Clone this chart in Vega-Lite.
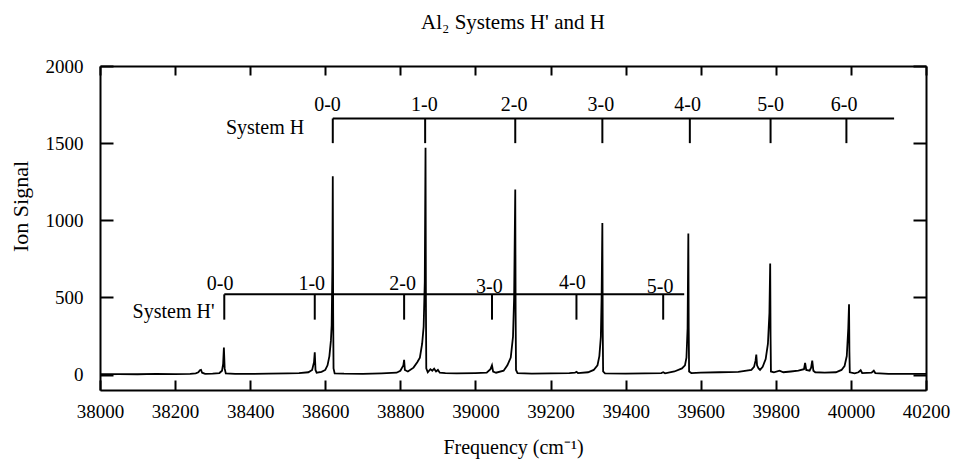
{
  "$schema": "https://vega.github.io/schema/vega-lite/v6.json",
  "width": 826,
  "height": 324,
  "autosize": {"type": "none"},
  "padding": {"left": 100, "top": 66, "right": 32, "bottom": 69},
  "background": "white",
  "title": {"text": "Al₂  Systems H' and H", "font": "Liberation Serif", "fontSize": 21, "fontWeight": "normal", "color": "black", "offset": 24, "anchor": "middle"},
  "config": {
    "font": "Liberation Serif",
    "view": {"stroke": null},
    "axis": {"grid": false, "domainColor": "black", "tickColor": "black", "labelColor": "black", "titleColor": "black", "labelFont": "Liberation Serif", "titleFont": "Liberation Serif", "labelFontSize": 19, "titleFontSize": 20, "titleFontWeight": "normal", "domainWidth": 2, "tickWidth": 2, "labelFlush": false, "labelOverlap": false}
  },
  "datasets": {
    "spectrum": [
      {"f": 38000, "s": 2}, {"f": 38050, "s": 3}, {"f": 38100, "s": 2}, {"f": 38150, "s": 4}, {"f": 38200, "s": 3},
      {"f": 38240, "s": 5}, {"f": 38255, "s": 8}, {"f": 38262, "s": 15}, {"f": 38266, "s": 28}, {"f": 38269, "s": 30},
      {"f": 38272, "s": 12}, {"f": 38280, "s": 5}, {"f": 38300, "s": 6}, {"f": 38318, "s": 10}, {"f": 38325, "s": 25},
      {"f": 38328, "s": 70}, {"f": 38330, "s": 175}, {"f": 38332, "s": 40}, {"f": 38335, "s": 8}, {"f": 38360, "s": 5},
      {"f": 38400, "s": 4}, {"f": 38450, "s": 6}, {"f": 38500, "s": 8}, {"f": 38530, "s": 10}, {"f": 38555, "s": 15},
      {"f": 38565, "s": 30}, {"f": 38570, "s": 80}, {"f": 38572, "s": 145}, {"f": 38574, "s": 30}, {"f": 38577, "s": 12},
      {"f": 38590, "s": 18}, {"f": 38600, "s": 30}, {"f": 38606, "s": 60}, {"f": 38611, "s": 120}, {"f": 38615, "s": 220},
      {"f": 38617, "s": 320}, {"f": 38619, "s": 700}, {"f": 38620, "s": 1285}, {"f": 38621, "s": 400}, {"f": 38622, "s": 40},
      {"f": 38625, "s": 8}, {"f": 38650, "s": 6}, {"f": 38700, "s": 5}, {"f": 38750, "s": 8}, {"f": 38790, "s": 12},
      {"f": 38800, "s": 25}, {"f": 38808, "s": 60}, {"f": 38810, "s": 95}, {"f": 38812, "s": 30}, {"f": 38820, "s": 20},
      {"f": 38835, "s": 45}, {"f": 38845, "s": 80}, {"f": 38852, "s": 110}, {"f": 38858, "s": 200}, {"f": 38862, "s": 310},
      {"f": 38865, "s": 600}, {"f": 38867, "s": 1470}, {"f": 38868, "s": 500}, {"f": 38869, "s": 40}, {"f": 38873, "s": 15},
      {"f": 38880, "s": 35}, {"f": 38885, "s": 25}, {"f": 38890, "s": 38}, {"f": 38895, "s": 20}, {"f": 38900, "s": 30},
      {"f": 38905, "s": 12}, {"f": 38920, "s": 10}, {"f": 38950, "s": 8}, {"f": 39000, "s": 10}, {"f": 39030, "s": 12},
      {"f": 39040, "s": 35}, {"f": 39044, "s": 60}, {"f": 39047, "s": 20}, {"f": 39055, "s": 12}, {"f": 39075, "s": 25},
      {"f": 39085, "s": 60}, {"f": 39094, "s": 110}, {"f": 39100, "s": 245}, {"f": 39103, "s": 500}, {"f": 39106, "s": 1200},
      {"f": 39107, "s": 400}, {"f": 39108, "s": 30}, {"f": 39112, "s": 10}, {"f": 39150, "s": 6}, {"f": 39200, "s": 8},
      {"f": 39250, "s": 10}, {"f": 39265, "s": 12}, {"f": 39269, "s": 18}, {"f": 39273, "s": 10}, {"f": 39300, "s": 15},
      {"f": 39315, "s": 30}, {"f": 39325, "s": 60}, {"f": 39330, "s": 120}, {"f": 39334, "s": 245}, {"f": 39336, "s": 500},
      {"f": 39338, "s": 983}, {"f": 39339, "s": 300}, {"f": 39340, "s": 20}, {"f": 39345, "s": 8}, {"f": 39400, "s": 6},
      {"f": 39450, "s": 8}, {"f": 39495, "s": 10}, {"f": 39500, "s": 15}, {"f": 39505, "s": 8}, {"f": 39530, "s": 20},
      {"f": 39550, "s": 40}, {"f": 39558, "s": 60}, {"f": 39562, "s": 110}, {"f": 39565, "s": 300}, {"f": 39567, "s": 914},
      {"f": 39568, "s": 300}, {"f": 39569, "s": 20}, {"f": 39575, "s": 10}, {"f": 39600, "s": 12}, {"f": 39650, "s": 15},
      {"f": 39700, "s": 18}, {"f": 39735, "s": 30}, {"f": 39742, "s": 50}, {"f": 39746, "s": 90}, {"f": 39748, "s": 130},
      {"f": 39750, "s": 60}, {"f": 39754, "s": 40}, {"f": 39758, "s": 30}, {"f": 39765, "s": 50}, {"f": 39773, "s": 100},
      {"f": 39779, "s": 200}, {"f": 39783, "s": 400}, {"f": 39785, "s": 720}, {"f": 39786, "s": 250}, {"f": 39787, "s": 20},
      {"f": 39795, "s": 15}, {"f": 39810, "s": 25}, {"f": 39820, "s": 15}, {"f": 39840, "s": 20}, {"f": 39860, "s": 25},
      {"f": 39875, "s": 35}, {"f": 39878, "s": 75}, {"f": 39881, "s": 30}, {"f": 39890, "s": 25}, {"f": 39894, "s": 45},
      {"f": 39897, "s": 90}, {"f": 39900, "s": 25}, {"f": 39905, "s": 15}, {"f": 39930, "s": 12}, {"f": 39960, "s": 15},
      {"f": 39975, "s": 30}, {"f": 39983, "s": 55}, {"f": 39989, "s": 120}, {"f": 39993, "s": 300}, {"f": 39995, "s": 456},
      {"f": 39996, "s": 150}, {"f": 39997, "s": 15}, {"f": 40010, "s": 8}, {"f": 40020, "s": 15}, {"f": 40026, "s": 28},
      {"f": 40030, "s": 10}, {"f": 40055, "s": 12}, {"f": 40061, "s": 25}, {"f": 40065, "s": 10}, {"f": 40100, "s": 5},
      {"f": 40150, "s": 4}, {"f": 40200, "s": 5}
    ],
    "brackets": [
      {"x": 38620, "x2": 40115, "y": 1660, "y2": 1660},
      {"x": 38620, "x2": 38620, "y": 1500, "y2": 1660},
      {"x": 38866, "x2": 38866, "y": 1500, "y2": 1660},
      {"x": 39106, "x2": 39106, "y": 1500, "y2": 1660},
      {"x": 39338, "x2": 39338, "y": 1500, "y2": 1660},
      {"x": 39571, "x2": 39571, "y": 1500, "y2": 1660},
      {"x": 39786, "x2": 39786, "y": 1500, "y2": 1660},
      {"x": 39988, "x2": 39988, "y": 1500, "y2": 1660},
      {"x": 38331, "x2": 39556, "y": 520, "y2": 520},
      {"x": 38331, "x2": 38331, "y": 356, "y2": 520},
      {"x": 38572, "x2": 38572, "y": 356, "y2": 520},
      {"x": 38810, "x2": 38810, "y": 356, "y2": 520},
      {"x": 39044, "x2": 39044, "y": 356, "y2": 520},
      {"x": 39269, "x2": 39269, "y": 356, "y2": 520},
      {"x": 39500, "x2": 39500, "y": 356, "y2": 520}
    ],
    "bands": [
      {"x": 38606, "y": 1745, "t": "0-0"},
      {"x": 38864, "y": 1745, "t": "1-0"},
      {"x": 39103, "y": 1745, "t": "2-0"},
      {"x": 39334, "y": 1745, "t": "3-0"},
      {"x": 39565, "y": 1745, "t": "4-0"},
      {"x": 39786, "y": 1745, "t": "5-0"},
      {"x": 39982, "y": 1745, "t": "6-0"},
      {"x": 38320, "y": 589, "t": "0-0"},
      {"x": 38564, "y": 589, "t": "1-0"},
      {"x": 38806, "y": 589, "t": "2-0"},
      {"x": 39037, "y": 566, "t": "3-0"},
      {"x": 39258, "y": 592, "t": "4-0"},
      {"x": 39492, "y": 566, "t": "5-0"}
    ],
    "systems": [
      {"x": 38544, "y": 1597, "t": "System H"},
      {"x": 38305, "y": 405, "t": "System H'"}
    ]
  },
  "layer": [
    {
      "data": {"name": "spectrum"},
      "mark": {"type": "line", "color": "black", "strokeWidth": 1.8},
      "encoding": {
        "x": {"field": "f", "type": "quantitative", "scale": {"domain": [38000, 40200], "nice": false, "zero": false},
          "axis": {"orient": "bottom", "values": [38000, 38200, 38400, 38600, 38800, 39000, 39200, 39400, 39600, 39800, 40000, 40200], "format": "d", "labelFont": "Liberation Serif", "titleFont": "Liberation Serif", "tickSize": -10, "labelPadding": 22, "title": "Frequency (cm⁻¹)", "titleBaseline": "middle", "titleY": 57}},
        "y": {"field": "s", "type": "quantitative", "scale": {"domain": [-100, 2000], "nice": false, "zero": false},
          "axis": {"orient": "left", "values": [0, 500, 1000, 1500, 2000], "format": "d", "labelFont": "Liberation Serif", "titleFont": "Liberation Serif", "titleFontSize": 22, "tickSize": -13, "labelPadding": 30, "title": "Ion Signal", "titleX": -80, "titleY": 140, "titleBaseline": "middle"}}
      }
    },
    {
      "data": {"name": "brackets"},
      "mark": {"type": "rule", "color": "black", "strokeWidth": 2},
      "encoding": {
        "x": {"field": "x", "type": "quantitative", "scale": {"domain": [38000, 40200], "nice": false, "zero": false},
          "axis": {"orient": "top", "values": [38000, 38200, 38400, 38600, 38800, 39000, 39200, 39400, 39600, 39800, 40000, 40200], "tickSize": -9, "labels": false, "title": null}},
        "x2": {"field": "x2"},
        "y": {"field": "y", "type": "quantitative", "scale": {"domain": [-100, 2000], "nice": false, "zero": false},
          "axis": {"orient": "right", "values": [0, 500, 1000, 1500, 2000], "tickSize": -13, "labels": false, "title": null}},
        "y2": {"field": "y2"}
      }
    },
    {
      "data": {"name": "bands"},
      "mark": {"type": "text", "font": "Liberation Serif", "fontSize": 20, "color": "black", "align": "center", "baseline": "middle"},
      "encoding": {
        "x": {"field": "x", "type": "quantitative", "axis": null},
        "y": {"field": "y", "type": "quantitative", "axis": null},
        "text": {"field": "t"}
      }
    },
    {
      "data": {"name": "systems"},
      "mark": {"type": "text", "font": "Liberation Serif", "fontSize": 20, "color": "black", "align": "right", "baseline": "middle"},
      "encoding": {
        "x": {"field": "x", "type": "quantitative", "axis": null},
        "y": {"field": "y", "type": "quantitative", "axis": null},
        "text": {"field": "t"}
      }
    }
  ],
  "resolve": {"axis": {"x": "independent", "y": "independent"}}
}
